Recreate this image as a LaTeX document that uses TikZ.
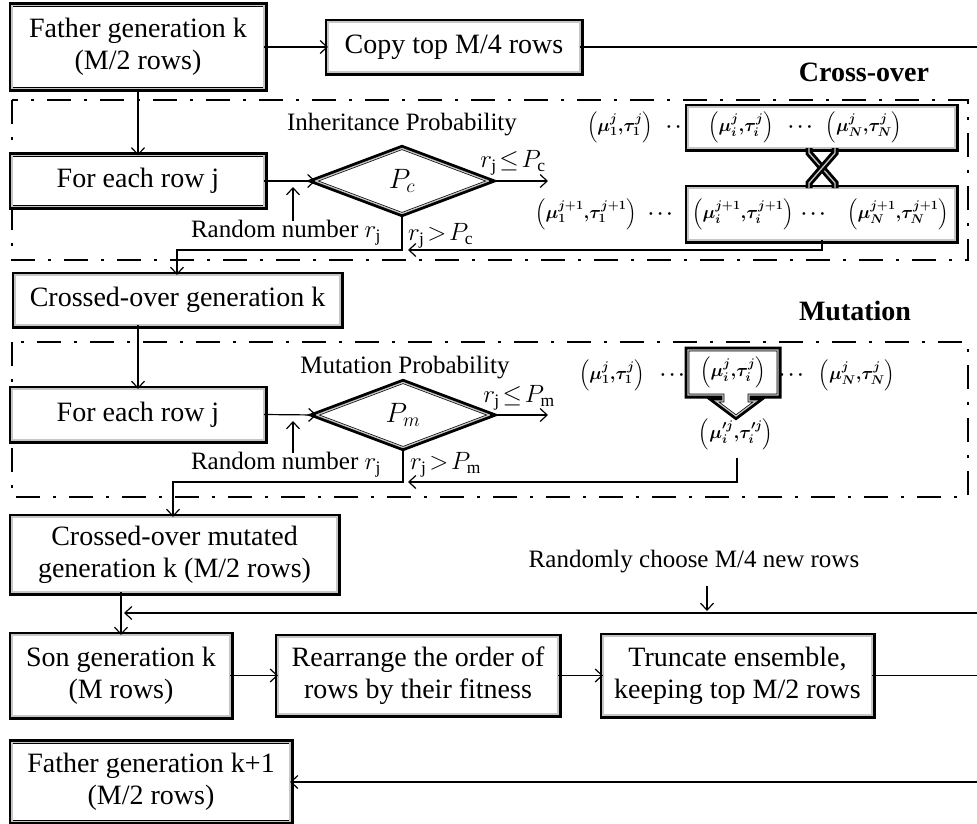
\RequirePackage{fix-cm}
\documentclass[tikz,border=0pt]{standalone}
\usepackage{amsmath}
\usepackage{fontspec}
\setmainfont{Liberation Serif}
\usetikzlibrary{shapes.geometric,arrows.meta}

\newcommand\boxfont{\fontsize{28}{32}\selectfont}
\newcommand\lblfont{\fontsize{25}{30}\selectfont}
\newcommand\tupfont{\fontsize{18}{22}\selectfont\boldmath}
% gene pair (mu, tau) with superscript #1 and subscripts #2, #3
\newcommand\pair[3]{$\left(\mu^{#1}_{#2},\!\tau^{#1}_{#3}\right)$}

\begin{document}
\begin{tikzpicture}[x=1pt,y=-1pt,
  triple/.style={draw=black, line width=0.7pt, double=gray!45, double distance=1.3pt,
    preaction={draw=black, line width=7pt}},
  box/.style={triple, fill=white, outer sep=0pt, inner sep=0pt, align=center, font=\boxfont},
  cond/.style={box, diamond},
  frame/.style={line width=1.6pt, dash pattern=on 24pt off 13pt on 3pt off 13pt},
  link/.style={line width=1.2pt, -{Straight Barb[length=7pt,width=13pt]}},
  wire/.style={line width=1.2pt},
  lbl/.style={font=\lblfont, inner sep=0pt},
  tup/.style={font=\tupfont, inner sep=0pt},
  title/.style={font=\boxfont\bfseries, inner sep=0pt},
]
\useasboundingbox (0,0) rectangle (977,823);

% ---------- father generation and elitism copy ----------
\node[box, minimum width=252pt, minimum height=83pt] (fk) at (138,47) {Father generation k\\(M/2 rows)};
\node[box, minimum width=252pt, minimum height=50pt] (copy) at (454,47) {Copy top M/4 rows};
\coordinate (copyend) at (977,47);
\draw[link] (fk.east) -- (copy.west);
\draw[wire] (copy.east) -- (copyend);

% ---------- cross-over block ----------
\node[title] (xotitle) at (864,72) {Cross-over};
\draw[frame] (12,100) rectangle (968,260);
\node[lbl] (inh) at (402,125) {Inheritance Probability};
\node[box, minimum width=252pt, minimum height=51pt] (row1) at (138,181) {For each row j};
\draw[link] (fk.south) -- (row1.north);
\node[cond, minimum width=173pt, minimum height=65pt] (pc) at (402,181) {$P_c$};
\draw[link] (row1.east) -- (pc.west);
\coordinate (pcyes) at (548,181);
\draw[link] (pc.east) -- (pcyes);
\node[lbl] (pcyeslbl) at (513,163) {$r_{\mathrm{j}}\!\le\! P_{\mathrm{c}}$};
\node[lbl, anchor=west] (pcnolbl) at (408,236) {$r_{\mathrm{j}}\!>\! P_{\mathrm{c}}$};
\node[lbl] (rn1) at (286,233) {Random number $r_{\mathrm{j}}$};
\coordinate (rn1a) at (293,221);
\coordinate (rn1b) at (293,187);
\draw[link] (rn1a) -- (rn1b);

\node[tup] (a1) at (620,127) {\pair{j}{1}{1}};
\node[tup] (adots) at (680,127) {$\cdots$};
\node[tup] (b1) at (586,214) {\pair{j+1}{1}{1}};
\node[tup] (bdots) at (662,214) {$\cdots$};
\node[box, minimum width=267pt, minimum height=41pt] (up) at (821.5,127.5) {};
\node[box, minimum width=267pt, minimum height=52pt] (low) at (821.5,214) {};
\node[tup] (ai) at (741,127) {\pair{j}{i}{i}};
\node[tup] (aidots) at (802,127) {$\cdots$};
\node[tup] (aN) at (864,127) {\pair{j}{N}{N}};
\node[tup] (bi) at (743,214) {\pair{j+1}{i}{i}};
\node[tup] (bidots) at (815,214) {$\cdots$};
\node[tup] (bN) at (898,214) {\pair{j+1}{N}{N}};
% exchange of the tail segments
\draw[triple] (809,148) -- (809,153) -- (835,183) -- (835,188);
\draw[triple] (835,148) -- (835,153) -- (809,183) -- (809,188);

\node[box, minimum width=325pt, minimum height=50pt] (xo) at (177.5,300) {Crossed-over generation k};
\coordinate (c1) at (177,250);
\draw[link] (pc.south) |- (c1) -- (c1 |- xo.north);
\coordinate (ret1) at (822,250);
\coordinate (ret1end) at (408,250);
\draw[link] (low.south -| ret1) -- (ret1) -- (ret1end);

% ---------- mutation block ----------
\node[title] (mttitle) at (855,311) {Mutation};
\draw[frame] (12,342) rectangle (968,497);
\node[lbl] (mprob) at (405,368) {Mutation Probability};
\node[box, minimum width=252pt, minimum height=51pt] (row2) at (138,414.5) {For each row j};
\draw[link] (xo.south -| row2.north) -- (row2.north);
\node[cond, minimum width=173pt, minimum height=65pt] (pm) at (403,415) {$P_m$};
\draw[link] (row2.east) -- (pm.west);
\coordinate (pmyes) at (548,415);
\draw[link] (pm.east) -- (pmyes);
\node[lbl] (pmyeslbl) at (519,398) {$r_{\mathrm{j}}\!\le\! P_{\mathrm{m}}$};
\node[lbl, anchor=west] (pmnolbl) at (410,465) {$r_{\mathrm{j}}\!>\! P_{\mathrm{m}}$};
\node[lbl] (rn2) at (286,465) {Random number $r_{\mathrm{j}}$};
\coordinate (rn2a) at (293,453);
\coordinate (rn2b) at (293,421);
\draw[link] (rn2a) -- (rn2b);

\node[tup] (m1) at (612,375) {\pair{j}{1}{1}};
\node[tup] (mdots) at (674,375) {$\cdots$};
\draw[triple, fill=white] (688,350) -- (778,350) -- (778,395) -- (749,395) -- (749,401)
  -- (756,401) -- (736,416) -- (716,401) -- (723,401) -- (723,395) -- (688,395) -- cycle;
\node[tup] (mi) at (733,372) {\pair{j}{i}{i}};
\node[tup] (midots) at (793,375) {$\cdots$};
\node[tup] (mN) at (857,375) {\pair{j}{N}{N}};
\node[tup] (mprime) at (736,434) {$\left(\mu'^{j}_{i},\!\tau'^{j}_{i}\right)$};

\node[box, minimum width=325pt, minimum height=75pt] (mut) at (174.5,554.5) {Crossed-over mutated\\generation k (M/2 rows)};
\coordinate (c2) at (173,482);
\draw[link] (pm.south) |- (c2) -- (c2 |- mut.north);
\coordinate (ret2a) at (737,458);
\coordinate (ret2) at (737,482);
\coordinate (ret2end) at (408,482);
\draw[link] (ret2a) -- (ret2) -- (ret2end);

% ---------- new rows, ranking and truncation ----------
\node[lbl] (rc) at (694,562) {Randomly choose M/4 new rows};
\coordinate (rca) at (707,586);
\coordinate (rcb) at (707,611);
\draw[link] (rca) -- (rcb);
\coordinate (newin) at (977,613);
\coordinate (newend) at (124,613);
\draw[link] (newin) -- (newend);

\node[box, minimum width=218pt, minimum height=81pt] (son) at (121,675.5) {Son generation k\\(M rows)};
\node[box, minimum width=280pt, minimum height=77pt] (rear) at (418,675.5) {Rearrange the order of\\rows by their fitness};
\node[box, minimum width=269pt, minimum height=79pt] (trunc) at (737.5,675.5) {Truncate ensemble,\\keeping top M/2 rows};
\draw[link] (mut.south -| son.north) -- (son.north);
\draw[link] (son.east) -- (rear.west);
\draw[link] (rear.east) -- (trunc.west);
\coordinate (truncend) at (977,675.5);
\draw[wire] (trunc.east) -- (truncend);

\node[box, minimum width=278pt, minimum height=79pt] (fk1) at (151,782) {Father generation k+1\\(M/2 rows)};
\coordinate (backin) at (977,782);
\draw[link] (backin) -- (fk1.east);
\end{tikzpicture}
\end{document}
